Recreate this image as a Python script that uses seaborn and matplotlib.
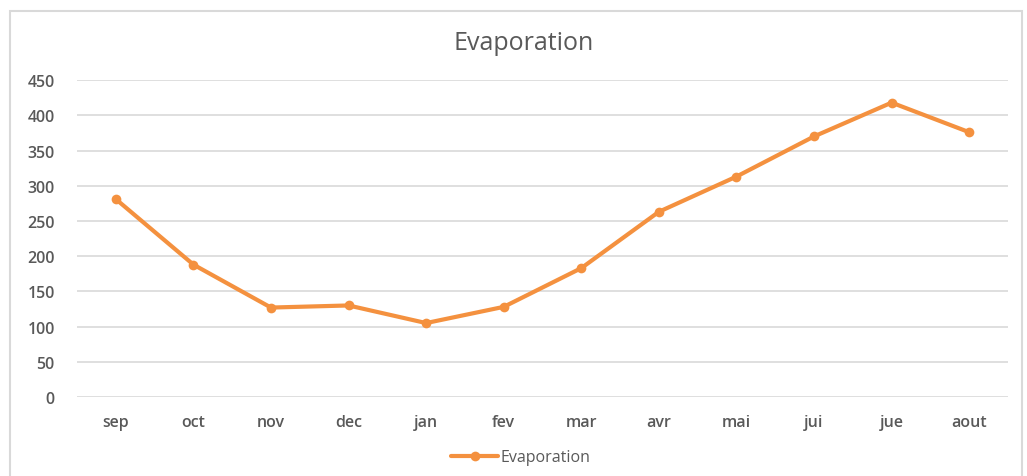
import matplotlib
matplotlib.use("Agg")
import matplotlib.pyplot as plt
import seaborn as sns
import pandas as pd
from matplotlib.patches import Rectangle

months = ["sep", "oct", "nov", "dec", "jan", "fev", "mar", "avr", "mai", "jui", "jue", "aout"]
evaporation = [281, 188, 127, 130, 105, 128, 183, 263, 313, 370, 418, 376]
yticks = [0, 50, 100, 150, 200, 250, 300, 350, 400, 450]

sns.set_theme(style="white")
plt.rcParams["font.family"] = ["Open Sans", "DejaVu Sans"]

df = pd.DataFrame({"month": months, "Evaporation": evaporation, "x": range(len(months))})

fig = plt.figure(figsize=(10.27, 4.77), dpi=100)
ax = fig.add_axes([0.075, 0.1656, 0.9065, 0.6644])

color = "#F4913F"
sns.lineplot(data=df, x="x", y="Evaporation", ax=ax, color=color, linewidth=3,
             marker="o", markersize=7, markeredgewidth=0, label="Evaporation")

ax.set_xlim(-0.5, len(months) - 0.5)
ax.set_ylim(0, 450)
ax.set_yticks(yticks)
ax.set_xticks(range(len(months)))
ax.set_xticklabels(months)
ax.set_xlabel("")
ax.set_ylabel("")
ax.grid(axis="y", color="#d9d9d9", linewidth=1.2)
ax.grid(axis="x", visible=False)
for s in ax.spines.values():
    s.set_visible(False)
ax.tick_params(axis="both", length=0, labelsize=11.5, labelcolor="#595959")
ax.tick_params(axis="x", pad=12)
ax.tick_params(axis="y", pad=16)
for lbl in ax.get_yticklabels() + ax.get_xticklabels():
    lbl.set_fontweight("semibold")

fig.text(0.51, 0.908, "Evaporation", ha="center", va="center", fontsize=18, color="#595959")

leg = ax.legend(loc="center", bbox_to_anchor=(0.477, -0.19), frameon=False,
                fontsize=11.5, handlelength=2.9, handletextpad=0.2)
for t in leg.get_texts():
    t.set_color("#595959")

fig.patches.append(Rectangle((10 / 1027, -0.01), 1012 / 1027, 1 - 12 / 477 + 0.01,
                             transform=fig.transFigure, fill=False,
                             edgecolor="#d9d9d9", linewidth=1.5))

fig.savefig("out.png", dpi=100)
